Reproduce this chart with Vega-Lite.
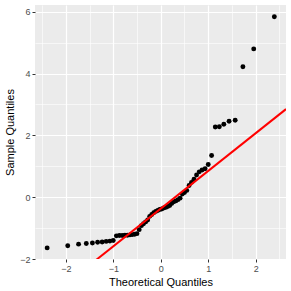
{
  "$schema": "https://vega.github.io/schema/vega-lite/v6.json",
  "width": 251,
  "height": 254,
  "autosize": {"type": "none"},
  "padding": {"left": 35, "top": 5, "right": 5, "bottom": 32},
  "background": "white",
  "config": {
    "view": {"fill": "#EBEBEB", "stroke": null},
    "axis": {
      "domain": false,
      "gridColor": "white",
      "gridWidth": 1.2,
      "tickColor": "#333333",
      "tickSize": 3,
      "tickWidth": 1,
      "labelColor": "#4D4D4D",
      "labelFont": "Liberation Sans",
      "labelFontSize": 9,
      "labelPadding": 2,
      "titleFont": "Liberation Sans",
      "titleFontSize": 11,
      "titleFontWeight": "normal",
      "titleColor": "black"
    }
  },
  "datasets": {
    "pts": [
      {"theoretical": -2.394, "sample": -1.64},
      {"theoretical": -1.960, "sample": -1.57},
      {"theoretical": -1.732, "sample": -1.52},
      {"theoretical": -1.569, "sample": -1.50},
      {"theoretical": -1.440, "sample": -1.48},
      {"theoretical": -1.330, "sample": -1.46},
      {"theoretical": -1.235, "sample": -1.45},
      {"theoretical": -1.150, "sample": -1.43},
      {"theoretical": -1.072, "sample": -1.42},
      {"theoretical": -1.001, "sample": -1.40},
      {"theoretical": -0.935, "sample": -1.25},
      {"theoretical": -0.872, "sample": -1.24},
      {"theoretical": -0.812, "sample": -1.24},
      {"theoretical": -0.755, "sample": -1.23},
      {"theoretical": -0.701, "sample": -1.23},
      {"theoretical": -0.649, "sample": -1.22},
      {"theoretical": -0.598, "sample": -1.21},
      {"theoretical": -0.549, "sample": -1.20},
      {"theoretical": -0.501, "sample": -1.18},
      {"theoretical": -0.454, "sample": -1.05},
      {"theoretical": -0.408, "sample": -0.92},
      {"theoretical": -0.363, "sample": -0.86},
      {"theoretical": -0.319, "sample": -0.80},
      {"theoretical": -0.275, "sample": -0.74},
      {"theoretical": -0.232, "sample": -0.62},
      {"theoretical": -0.189, "sample": -0.56},
      {"theoretical": -0.147, "sample": -0.50},
      {"theoretical": -0.105, "sample": -0.46},
      {"theoretical": -0.063, "sample": -0.43},
      {"theoretical": -0.021, "sample": -0.40},
      {"theoretical": 0.021, "sample": -0.38},
      {"theoretical": 0.063, "sample": -0.35},
      {"theoretical": 0.105, "sample": -0.33},
      {"theoretical": 0.147, "sample": -0.30},
      {"theoretical": 0.189, "sample": -0.27},
      {"theoretical": 0.232, "sample": -0.20},
      {"theoretical": 0.275, "sample": -0.15},
      {"theoretical": 0.319, "sample": -0.12},
      {"theoretical": 0.363, "sample": -0.08},
      {"theoretical": 0.408, "sample": -0.03},
      {"theoretical": 0.454, "sample": 0.10},
      {"theoretical": 0.501, "sample": 0.15},
      {"theoretical": 0.549, "sample": 0.22},
      {"theoretical": 0.598, "sample": 0.38},
      {"theoretical": 0.649, "sample": 0.48},
      {"theoretical": 0.701, "sample": 0.58},
      {"theoretical": 0.755, "sample": 0.72},
      {"theoretical": 0.812, "sample": 0.82},
      {"theoretical": 0.872, "sample": 0.88},
      {"theoretical": 0.935, "sample": 0.92},
      {"theoretical": 1.001, "sample": 1.06},
      {"theoretical": 1.072, "sample": 1.35},
      {"theoretical": 1.150, "sample": 2.27},
      {"theoretical": 1.235, "sample": 2.28},
      {"theoretical": 1.330, "sample": 2.36},
      {"theoretical": 1.440, "sample": 2.46},
      {"theoretical": 1.569, "sample": 2.49},
      {"theoretical": 1.732, "sample": 4.22},
      {"theoretical": 1.960, "sample": 4.80},
      {"theoretical": 2.394, "sample": 5.84}
    ],
    "ln": [
      {"theoretical": -2.65, "sample": -3.603},
      {"theoretical": 2.64, "sample": 2.851}
    ]
  },
  "layer": [
    {
      "data": {"name": "pts"},
      "mark": {"type": "point", "opacity": 0},
      "encoding": {
        "x": {
          "field": "theoretical", "type": "quantitative",
          "scale": {"domain": [-2.65, 2.64], "nice": false, "zero": false},
          "axis": {"orient": "top", "values": [-2.5, -1.5, -0.5, 0.5, 1.5, 2.5], "grid": true, "gridWidth": 0.6, "labels": false, "ticks": false, "title": null}
        },
        "y": {
          "field": "sample", "type": "quantitative",
          "scale": {"domain": [-2, 6.22], "nice": false, "zero": false},
          "axis": {"orient": "right", "values": [-1, 1, 3, 5], "grid": true, "gridWidth": 0.6, "labels": false, "ticks": false, "title": null}
        }
      }
    },
    {
      "data": {"name": "pts"},
      "mark": {"type": "circle", "color": "black", "opacity": 1, "size": 24},
      "encoding": {
        "x": {
          "field": "theoretical", "type": "quantitative",
          "axis": {"orient": "bottom", "values": [-2, -1, 0, 1, 2], "grid": true, "title": "Theoretical Quantiles", "titlePadding": 3}
        },
        "y": {
          "field": "sample", "type": "quantitative",
          "axis": {"orient": "left", "values": [-2, 0, 2, 4, 6], "grid": true, "title": "Sample Quantiles", "titlePadding": 4}
        }
      }
    },
    {
      "data": {"name": "ln"},
      "mark": {"type": "line", "color": "#FF0000", "strokeWidth": 2, "clip": true},
      "encoding": {
        "x": {"field": "theoretical", "type": "quantitative", "axis": null},
        "y": {"field": "sample", "type": "quantitative", "axis": null}
      }
    }
  ],
  "resolve": {"axis": {"x": "independent", "y": "independent"}}
}
